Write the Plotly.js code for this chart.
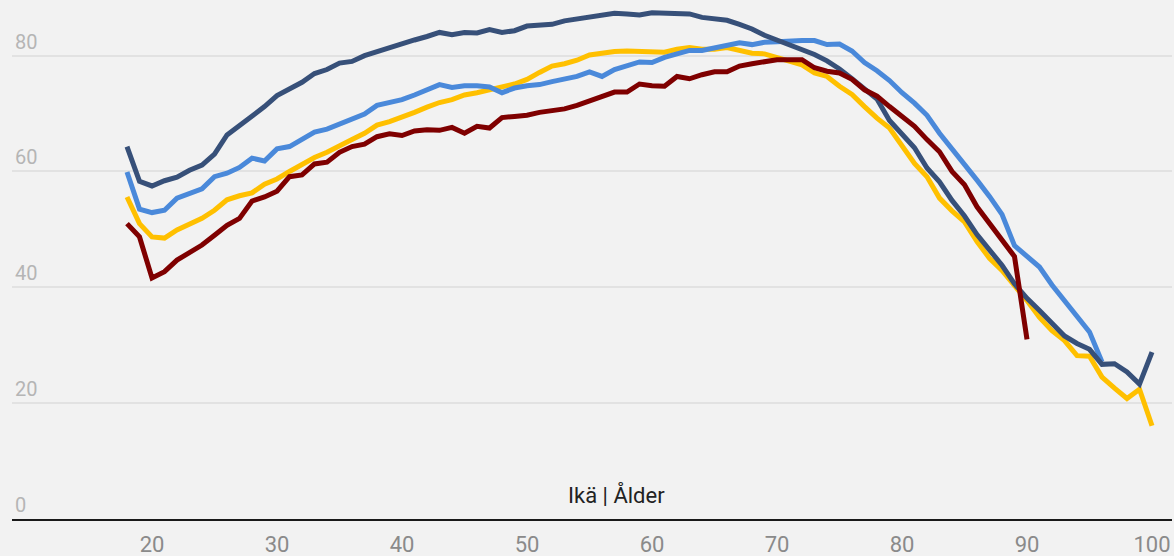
<!DOCTYPE html>
<html>
<head>
<meta charset="utf-8">
<script src="https://cdn.plot.ly/plotly-3.0.1.min.js"></script>
<style>html,body{margin:0;padding:0;background:#f2f2f2;}#chart{width:1174px;height:556px;}</style>
</head>
<body>
<div id="chart"></div>
<script>
const agesDarkBlue = [];
for (let a = 18; a <= 100; a++) agesDarkBlue.push(a);
const agesLightBlue = agesDarkBlue.filter(a => a <= 96);
const agesYellow = agesDarkBlue.slice();
const agesDarkRed = agesDarkBlue.filter(a => a <= 90);

const darkBlue = [64.3,58.3,57.5,58.4,59.0,60.2,61.1,63.0,66.3,67.9,69.5,71.2,73.1,74.2,75.4,76.9,77.6,78.7,79.0,80.0,80.7,81.5,82.2,82.7,83.3,84.0,83.6,84.0,83.9,84.5,84.0,84.3,85.1,85.2,85.4,86.0,86.3,86.7,87.1,87.3,87.2,87.0,87.4,87.3,87.4,87.2,86.6,86.3,86.1,85.4,84.6,83.5,82.7,82.0,81.1,80.2,79.1,77.7,76.0,74.2,72.5,68.8,66.5,64.1,60.6,58.2,55.0,52.3,49.1,46.5,43.8,40.6,38.1,36.0,33.8,31.6,30.3,29.3,26.7,26.8,25.4,23.3,28.8];
const lightBlue = [59.9,53.5,52.9,53.3,55.4,56.1,57.0,59.1,59.7,60.7,62.3,61.8,63.9,64.3,65.5,66.8,67.3,68.1,68.9,69.9,71.4,71.8,72.4,73.2,74.0,75.0,74.5,74.8,74.8,74.6,73.6,74.4,74.8,75.0,75.5,76.0,76.4,77.2,76.4,77.6,78.2,78.9,78.8,79.7,80.3,80.9,80.9,81.4,81.9,82.2,81.9,82.3,82.4,82.6,82.6,82.6,81.9,82.0,80.8,78.8,77.4,75.7,73.6,71.8,69.7,66.6,64.0,61.1,58.5,55.7,52.6,47.2,45.4,43.5,40.4,37.7,35.1,32.3,27.1];
const yellow = [55.6,51.0,48.7,48.5,49.9,51.0,51.9,53.3,55.1,55.8,56.3,57.8,58.7,60.0,61.2,62.4,63.3,64.5,65.5,66.6,68.0,68.6,69.3,70.2,71.1,71.9,72.4,73.2,73.6,74.0,74.6,75.1,75.9,77.1,78.2,78.6,79.2,80.1,80.5,80.7,80.8,80.8,80.8,80.6,81.1,81.4,81.1,81.1,81.4,80.9,80.4,80.3,79.6,79.0,78.4,77.0,76.4,74.7,73.3,71.2,69.2,67.5,64.6,61.4,59.1,55.4,53.2,51.3,47.9,45.0,42.9,40.4,37.7,34.8,32.5,30.8,28.2,28.1,24.5,22.6,20.8,22.4,16.1];
const darkRed = [51.0,48.7,41.6,42.7,44.7,46.0,47.3,49.0,50.7,51.9,54.9,55.6,56.6,59.1,59.4,61.3,61.6,63.3,64.3,64.7,66.0,66.5,66.2,67.0,67.2,67.1,67.6,66.6,67.8,67.5,69.3,69.5,69.7,70.2,70.4,70.8,71.4,72.2,73.1,73.7,73.7,75.1,74.8,74.7,76.4,76.0,76.7,77.2,77.2,78.2,78.6,79.0,79.3,79.3,79.3,77.9,77.3,77.0,75.9,74.1,73.0,71.2,69.5,67.8,65.5,63.4,60.0,57.7,53.9,51.0,48.1,45.3,31.0];

const xTicks = [20,30,40,50,60,70,80,90,100];
const yTicks = [0,20,40,60,80];
const xTitle = 'Ikä | Ålder';

function tr(x, y, color) {
  return {x: x, y: y, type: 'scatter', mode: 'lines', line: {color: color, width: 5}, hoverinfo: 'x+y', showlegend: false};
}

const data = [
  tr(agesYellow, yellow, '#ffc000'),
  tr(agesLightBlue, lightBlue, '#4a89da'),
  tr(agesDarkBlue, darkBlue, '#375079'),
  tr(agesDarkRed, darkRed, '#7f0000')
];

const layout = {
  width: 1174, height: 556,
  margin: {l: 12, r: 2, t: 0, b: 37},
  paper_bgcolor: '#f2f2f2', plot_bgcolor: '#f2f2f2',
  font: {family: 'Roboto, sans-serif'},
  xaxis: {
    range: [8.8, 101.6], tickvals: xTicks, ticktext: xTicks.map(String),
    showgrid: false, zeroline: false, ticks: '', ticklabelstandoff: 5,
    showline: true, linecolor: '#1a1a1a', linewidth: 2,
    tickfont: {size: 22, color: '#8a8a8a'}
  },
  yaxis: {
    range: [0, 89.6], tickvals: yTicks, ticktext: yTicks.map(String),
    showgrid: true, gridcolor: '#e2e2e2', gridwidth: 2, zeroline: false,
    ticks: '', ticklabelposition: 'inside top',
    tickfont: {size: 20, color: '#b5b5b5'}
  },
  annotations: [{
    text: xTitle, xref: 'paper', yref: 'paper', x: 0.521, y: 0.018,
    xanchor: 'center', yanchor: 'bottom', showarrow: false,
    font: {size: 22, color: '#222222'}
  }]
};

Plotly.newPlot('chart', data, layout, {displayModeBar: false, staticPlot: true});
</script>
</body>
</html>
